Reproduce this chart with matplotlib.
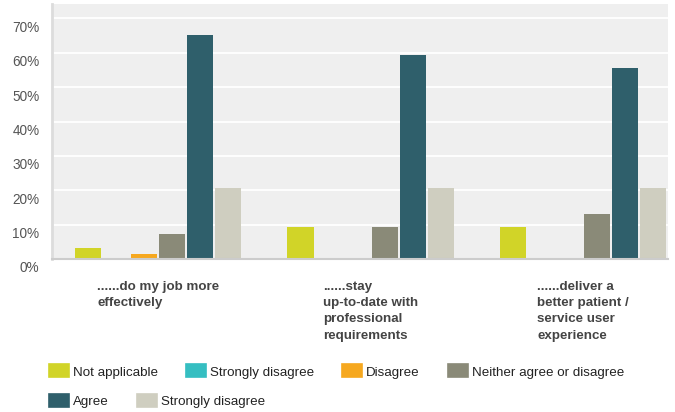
import numpy as np
import matplotlib
matplotlib.use("Agg")
import matplotlib.pyplot as plt
from matplotlib.patches import Patch
from matplotlib.transforms import ScaledTranslation, blended_transform_factory

plt.rcParams['font.family'] = ['Liberation Sans', 'DejaVu Sans']

categories = ["......do my job more\neffectively",
              "......stay\nup-to-date with\nprofessional\nrequirements",
              "......deliver a\nbetter patient /\nservice user\nexperience"]
series_names = ["Not applicable", "Strongly disagree", "Disagree",
                "Neither agree or disagree", "Agree", "Strongly disagree"]
not_applicable = [3.3, 9.4, 9.4]
strongly_disagree = [0.0, 0.0, 0.0]
disagree = [1.5, 0.0, 0.0]
neither = [7.4, 9.4, 13.2]
agree = [65.2, 59.3, 55.6]
strongly_agree = [20.7, 20.7, 20.7]
values = [not_applicable, strongly_disagree, disagree, neither, agree, strongly_agree]
colors = ["#d1d428", "#35bec1", "#f6a81f", "#8a8a78", "#2f5f6b", "#cfcec0"]
yticks = [0, 10, 20, 30, 40, 50, 60, 70]

fig = plt.figure(figsize=(6.75, 4.12), dpi=100)
W, H = 675, 412
ax = fig.add_axes([52 / W, (H - 259) / H, (668 - 52) / W, (259 - 4) / H])
ax.set_facecolor("#efefef")

x = np.arange(len(categories))
step = 0.132
width = 0.123
for i, (vals, col) in enumerate(zip(values, colors)):
    ax.bar(x + (i - 2.5) * step, vals, width, color=col, zorder=3)

ax.set_xlim(-0.5, 2.40)
ax.set_ylim(0, 74.2)
ax.set_yticks(yticks)
ax.set_yticklabels([f"{t}%" for t in yticks], fontsize=9.8, color="#555555")
ax.tick_params(axis="y", length=0, pad=9)
ax.tick_params(axis="x", length=0, labelbottom=False)
for lab in ax.get_yticklabels():
    lab.set_transform(lab.get_transform() + ScaledTranslation(0, -0.08, fig.dpi_scale_trans))
ax.grid(axis="y", color="white", linewidth=1.3, zorder=1)
for s in ["top", "right"]:
    ax.spines[s].set_visible(False)
ax.spines["left"].set_color("#dcdcdc")
ax.spines["left"].set_linewidth(2)
ax.spines["bottom"].set_color("#cccccc")
ax.spines["bottom"].set_linewidth(1.5)
ax.spines["bottom"].set_zorder(4)

trans = blended_transform_factory(ax.transData, ax.transAxes)
for xi, cat in zip(x, categories):
    ax.text(xi, -(281 - 259) / 255, cat, transform=trans, ha="center", va="top",
            multialignment="left", fontsize=9.6, fontweight="bold",
            color="#444444", linespacing=1.47)

handles = [Patch(facecolor=c, edgecolor=c, linewidth=1.2, joinstyle="round") for c in colors]
leg_kw = dict(frameon=False, fontsize=9.6, handlelength=1.5, handleheight=1.12,
              handletextpad=0.3, columnspacing=2.1, borderpad=0, borderaxespad=0,
              loc="center left", labelcolor="#222222")
leg1 = fig.legend(handles[:4], series_names[:4], ncol=4,
                  bbox_to_anchor=(49 / W, 1 - 371.5 / H), **leg_kw)
leg2 = fig.legend(handles[4:], series_names[4:], ncol=2,
                  bbox_to_anchor=(49 / W, 1 - 401 / H), **leg_kw)

fig.savefig("out.png", dpi=100)
